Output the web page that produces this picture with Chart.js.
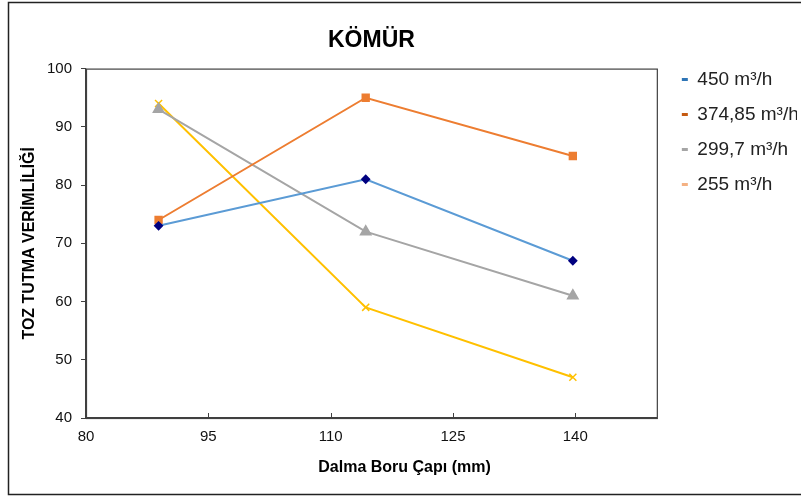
<!DOCTYPE html>
<html>
<head>
<meta charset="utf-8">
<script src="https://cdn.jsdelivr.net/npm/chart.js@4.4.1/dist/chart.umd.min.js"></script>
<style>
  html, body { margin: 0; padding: 0; background: #fff; }
  #wrap { width: 801px; height: 497px; }
</style>
</head>
<body>
<div id="wrap"><canvas id="chart" width="801" height="497"></canvas></div>
<script>
// boru çapları (mm)
const diameters = [88.9, 114.3, 139.7];
const xTicks = [80, 95, 110, 125, 140];
const yTicks = [40, 50, 60, 70, 80, 90, 100];

const seriesNames = ['450 m³/h', '374,85 m³/h', '299,7 m³/h', '255 m³/h'];
const flow450 = [73, 81, 67];
const flow374 = [74, 95, 85];
const flow299 = [93, 72, 61];
const flow255 = [94, 59, 47];

const lineColors = ['#5B9BD5', '#ED7D31', '#A5A5A5', '#FFC000'];
const legendColors = ['#2E75B6', '#C55A11', '#A5A5A5', '#F4B183'];

const AXIS_COLOR = '#404040';
const FONT = "'Liberation Sans', Arial, sans-serif";

function toPoints(values) {
    return values.map((v, i) => ({ x: diameters[i], y: v }));
}

const datasets = [
    {
        label: seriesNames[0],
        data: toPoints(flow450),
        borderColor: lineColors[0],
        pointStyle: 'rectRot',
        pointRadius: 3.5,
        pointBackgroundColor: '#000080',
        pointBorderColor: '#000080'
    },
    {
        label: seriesNames[1],
        data: toPoints(flow374),
        borderColor: lineColors[1],
        pointStyle: 'rect',
        pointRadius: 4.5,
        pointBackgroundColor: lineColors[1],
        pointBorderColor: lineColors[1]
    },
    {
        label: seriesNames[2],
        data: toPoints(flow299),
        borderColor: lineColors[2],
        pointStyle: 'triangle',
        pointRadius: 5.5,
        pointBackgroundColor: lineColors[2],
        pointBorderColor: lineColors[2]
    },
    {
        label: seriesNames[3],
        data: toPoints(flow255),
        borderColor: lineColors[3],
        pointStyle: 'crossRot',
        pointRadius: 5,
        pointBorderWidth: 1.5,
        pointBackgroundColor: lineColors[3],
        pointBorderColor: lineColors[3]
    }
];
datasets.forEach(ds => {
    ds.borderWidth = 2;
    ds.tension = 0;
    ds.fill = false;
});

// çerçeve, grafik alanı kutusu ve x ekseni başlığı
const framePlugin = {
    id: 'frame',
    beforeDraw(chart) {
        const ctx = chart.ctx;
        ctx.save();
        ctx.fillStyle = '#fff';
        ctx.fillRect(0, 0, chart.width, chart.height);
        ctx.restore();
    },
    beforeDatasetsDraw(chart) {
        const { ctx, chartArea: a } = chart;
        const xs = chart.scales.x;
        ctx.save();
        ctx.strokeStyle = AXIS_COLOR;
        ctx.lineWidth = 1.2;
        ctx.strokeRect(a.left + 0.5, a.top + 0.5, a.right - a.left, a.bottom - a.top);
        // içe dönük x tik işaretleri
        ctx.lineWidth = 1;
        xs.ticks.forEach(t => {
            const px = Math.round(xs.getPixelForValue(t.value)) + 0.5;
            if (px - a.left < 2) return;
            ctx.beginPath();
            ctx.moveTo(px, a.bottom);
            ctx.lineTo(px, a.bottom - 5);
            ctx.stroke();
        });
        ctx.restore();
    },
    afterDraw(chart) {
        const { ctx, chartArea: a } = chart;
        ctx.save();
        ctx.strokeStyle = '#222';
        ctx.lineWidth = 1.5;
        ctx.beginPath();
        ctx.moveTo(chart.width, 2.5);
        ctx.lineTo(8.5, 2.5);
        ctx.lineTo(8.5, 494.5);
        ctx.lineTo(chart.width, 494.5);
        ctx.stroke();

        ctx.fillStyle = '#000';
        ctx.font = 'bold 16px ' + FONT;
        ctx.textAlign = 'center';
        ctx.textBaseline = 'middle';
        ctx.fillText('Dalma Boru Çapı (mm)', a.left + (a.right - a.left) * 0.558, 468);
        ctx.restore();
    }
};

new Chart(document.getElementById('chart'), {
    type: 'line',
    data: { datasets: datasets },
    options: {
        responsive: false,
        animation: false,
        layout: { padding: { left: 10, top: 0, right: 4, bottom: 0 } },
        scales: {
            x: {
                type: 'linear',
                min: 80,
                max: 150,
                afterBuildTicks: s => { s.ticks = xTicks.map(v => ({ value: v })); },
                afterFit: s => { s.height = 79; },
                grid: { display: false, drawTicks: false },
                border: { display: true, color: AXIS_COLOR, width: 1.2 },
                ticks: { color: '#111', padding: 10, font: { family: FONT, size: 15 } }
            },
            y: {
                min: 40,
                max: 100,
                afterBuildTicks: s => { s.ticks = yTicks.map(v => ({ value: v })); },
                afterFit: s => { s.width = 76; },
                grid: { drawOnChartArea: false, drawTicks: true, tickLength: 5, color: AXIS_COLOR },
                border: { display: true, color: AXIS_COLOR, width: 1.2 },
                ticks: { color: '#111', padding: 9, font: { family: FONT, size: 15 } },
                title: {
                    display: true,
                    text: 'TOZ TUTMA VERİMLİLİĞİ',
                    color: '#000',
                    padding: { top: 10, bottom: 0 },
                    font: { family: FONT, size: 16, weight: 'bold' }
                }
            },
            gap: {
                type: 'linear',
                position: 'right',
                display: true,
                afterFit: s => { s.width = 9; },
                grid: { display: false },
                border: { display: false },
                ticks: { display: false }
            }
        },
        plugins: {
            title: {
                display: true,
                text: 'KÖMÜR',
                fullSize: false,
                color: '#000',
                padding: { top: 27, bottom: 14 },
                font: { family: FONT, size: 23, weight: 'bold' }
            },
            legend: {
                position: 'right',
                align: 'start',
                title: { display: true, text: '', font: { size: 10 }, padding: { top: 22, bottom: 20 } },
                labels: {
                    boxWidth: 6,
                    boxHeight: 3,
                    padding: 16,
                    color: '#222',
                    font: { family: FONT, size: 19 },
                    generateLabels: chart => chart.data.datasets.map((ds, i) => ({
                        text: ds.label,
                        fillStyle: legendColors[i],
                        strokeStyle: legendColors[i],
                        lineWidth: 0,
                        fontColor: '#222',
                        datasetIndex: i,
                        hidden: false
                    }))
                }
            },
            tooltip: { enabled: false }
        }
    },
    plugins: [framePlugin]
});
</script>
</body>
</html>
